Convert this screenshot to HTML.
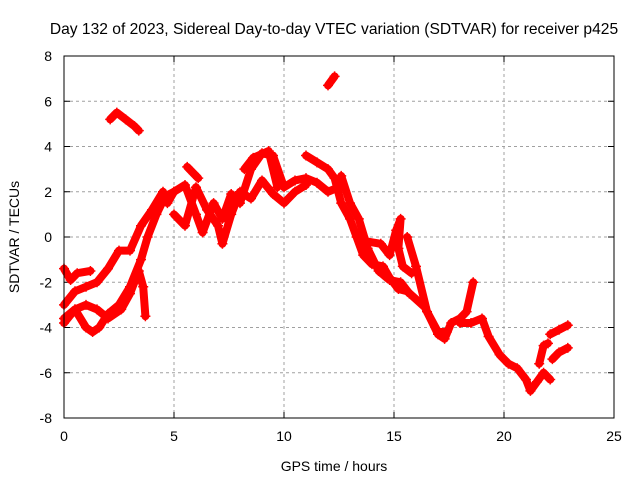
<!DOCTYPE html>
<html><head><meta charset="utf-8"><style>
body{margin:0;background:#fff}
svg{display:block;font-family:"Liberation Sans",sans-serif}
</style></head><body>
<svg id="chart" width="640" height="480" viewBox="0 0 640 480" xmlns="http://www.w3.org/2000/svg">
<rect width="640" height="480" fill="#fff"/>
<text x="334" y="34" font-size="15.6" text-anchor="middle">Day 132 of 2023, Sidereal Day-to-day VTEC variation (SDTVAR) for receiver p425</text>
<text x="334" y="471" font-size="14" text-anchor="middle">GPS time / hours</text>
<text transform="translate(19,237) rotate(-90)" font-size="14" text-anchor="middle">SDTVAR / TECUs</text>
<g id="grid"></g><g id="ticks"></g><g id="series"></g>
<rect x="64" y="56" width="550" height="362" fill="none" stroke="#000" stroke-width="1"/>
</svg>
<script>
const xTicks=[0,5,10,15,20,25];
const yTicks=[-8,-6,-4,-2,0,2,4,6,8];
const trackA_h=[0,0.5,1.0,1.3,1.6,2.0,2.5,3.0,3.5,3.8,4.2,4.6,5.0];
const trackA_v=[-3.8,-3.2,-4.0,-4.2,-4.0,-3.4,-3.0,-2.2,-1.0,0.0,1.0,1.8,2.0];
const trackB_h=[0,0.5,1.0,1.5,2.0,2.5,3.0,3.5,4.0,4.5];
const trackB_v=[-3.0,-2.4,-2.2,-2.0,-1.4,-0.6,-0.6,0.5,1.2,2.0];
const trackC_h=[0,0.3,0.6,1.2];
const trackC_v=[-1.4,-1.9,-1.6,-1.5];
const trackD_h=[0,0.5,1.0,1.5,2.0,2.6,3.0,3.4,3.6,3.7];
const trackD_v=[-3.6,-3.2,-3.0,-3.2,-3.6,-3.2,-2.5,-1.5,-2.2,-3.5];
const trackE_h=[2.1,2.4,2.8,3.2,3.4];
const trackE_v=[5.2,5.5,5.2,4.9,4.7];
const trackF_h=[12.0,12.3];
const trackF_v=[6.7,7.1];
const trackG_h=[4.7,5.0,5.5,6.0,6.3,6.8,7.2,7.6,8.0,8.5,9.0,9.5,10.0,10.5,11.0,11.5,12.0,12.5];
const trackG_v=[1.5,2.0,2.3,1.0,0.2,1.5,0.8,1.9,1.5,3.0,3.7,3.6,2.2,2.5,2.6,2.4,2.0,2.2];
const trackH_h=[5.0,5.5,6.0,6.5,7.0,7.2,7.6,8.0,8.5,9.0,9.5,10.0,10.5,11.0];
const trackH_v=[1.0,0.5,2.2,1.2,0.5,-0.3,1.0,2.0,1.7,2.5,1.9,1.5,2.0,2.3];
const trackI_h=[5.6,5.9,6.1];
const trackI_v=[3.1,2.8,2.6];
const trackI2_h=[8.2,8.6,9.3,9.7];
const trackI2_v=[3.0,3.5,3.8,2.2];
const trackJ_h=[11.0,11.5,12.0,12.3,12.6,13.0,13.3,13.6,14.0,14.5,14.8,15.2,15.6];
const trackJ_v=[3.6,3.3,3.0,2.6,1.5,0.8,0.0,-0.8,-1.2,-1.3,-1.8,-2.3,-2.4];
const trackK_h=[12.6,13.0,13.4,13.8,14.3,14.8,15.3,15.7];
const trackK_v=[2.7,1.5,0.8,-0.5,-1.5,-1.9,-2.0,-2.5];
const trackL_h=[13.8,14.4,14.8,15.1,15.3,15.2,15.4,15.8];
const trackL_v=[-0.2,-0.3,-0.8,0.3,0.8,-0.5,-1.3,-1.6];
const trackM_h=[15.6,16.0,16.5,17.0,17.4];
const trackM_v=[0.0,-1.3,-3.3,-4.2,-4.2];
const trackN_h=[15.6,16.4,17.0,17.3,17.6,18.0,18.3,18.6];
const trackN_v=[-2.4,-3.1,-4.3,-4.5,-3.8,-3.6,-3.3,-2.0];
const trackO_h=[18.0,18.5,19.0,19.3,19.8,20.2,20.6,21.0,21.2,21.5,21.8,22.1];
const trackO_v=[-3.8,-3.8,-3.6,-4.4,-5.2,-5.6,-5.8,-6.3,-6.8,-6.4,-6.0,-6.3];
const trackP_h=[21.6,21.8,22.0];
const trackP_v=[-5.6,-4.8,-4.7];
const trackQ_h=[22.1,22.5,22.9];
const trackQ_v=[-4.3,-4.1,-3.9];
const trackR_h=[22.2,22.5,22.9];
const trackR_v=[-5.4,-5.1,-4.9];
const tracks=[[trackA_h,trackA_v],[trackB_h,trackB_v],[trackC_h,trackC_v],[trackD_h,trackD_v],[trackE_h,trackE_v],[trackF_h,trackF_v],[trackG_h,trackG_v],[trackH_h,trackH_v],[trackI_h,trackI_v],[trackI2_h,trackI2_v],[trackJ_h,trackJ_v],[trackK_h,trackK_v],[trackL_h,trackL_v],[trackM_h,trackM_v],[trackN_h,trackN_v],[trackO_h,trackO_v],[trackP_h,trackP_v],[trackQ_h,trackQ_v],[trackR_h,trackR_v]];
const NS="http://www.w3.org/2000/svg";
const X0=64,X1=614,Y0=418,Y1=56;
function xs(h){return X0+(h-0)/25*(X1-X0);}
function ys(v){return Y0-(v+8)/16*(Y0-Y1);}
function mk(tag,attrs,parent){const e=document.createElementNS(NS,tag);for(const k in attrs)e.setAttribute(k,attrs[k]);parent.appendChild(e);return e;}
const grid=document.getElementById('grid'),ticks=document.getElementById('ticks'),series=document.getElementById('series');
xTicks.forEach(t=>{
  const x=xs(t);
  if(t>0&&t<25){const g=mk('line',{x1:x,x2:x,y1:Y1,y2:Y0,stroke:'#a0a0a0','stroke-dasharray':'3,3'},grid);
  
  }
  mk('line',{x1:x,x2:x,y1:Y0,y2:Y0-6,stroke:'#000'},ticks);
  mk('line',{x1:x,x2:x,y1:Y1,y2:Y1+6,stroke:'#000'},ticks);
  const l=mk('text',{x:x,y:Y0+23,'font-size':14,'text-anchor':'middle'},ticks);
  l.textContent=t;
  
  
});
yTicks.forEach(t=>{
  const y=ys(t);
  if(t>-8&&t<8){const g=mk('line',{x1:X0,x2:X1,y1:y,y2:y,stroke:'#a0a0a0','stroke-dasharray':'3,3'},grid);
  
  }
  mk('line',{x1:X0,x2:X0+6,y1:y,y2:y,stroke:'#000'},ticks);
  mk('line',{x1:X1,x2:X1-6,y1:y,y2:y,stroke:'#000'},ticks);
  const l=mk('text',{x:X0-12,y:y+5,'font-size':14,'text-anchor':'end'},ticks);
  l.textContent=t;
  
  
});
tracks.forEach(([hs,vs])=>{
  const pts=hs.map((h,i)=>xs(h)+','+ys(vs[i])).join(' ');
  const pl=mk('polyline',{points:pts,fill:'none',stroke:'#ff0000','stroke-width':8,'stroke-linejoin':'round','stroke-linecap':'round'},series);
  
  
  hs.forEach((h,i)=>{
    const x=xs(h),y=ys(vs[i]);
    const p=mk('path',{d:`M${x-5},${y}H${x+5}M${x},${y-5}V${y+5}`,stroke:'#ff0000','stroke-width':1.5},series);
    
    
  });
});
</script>
</body></html>
